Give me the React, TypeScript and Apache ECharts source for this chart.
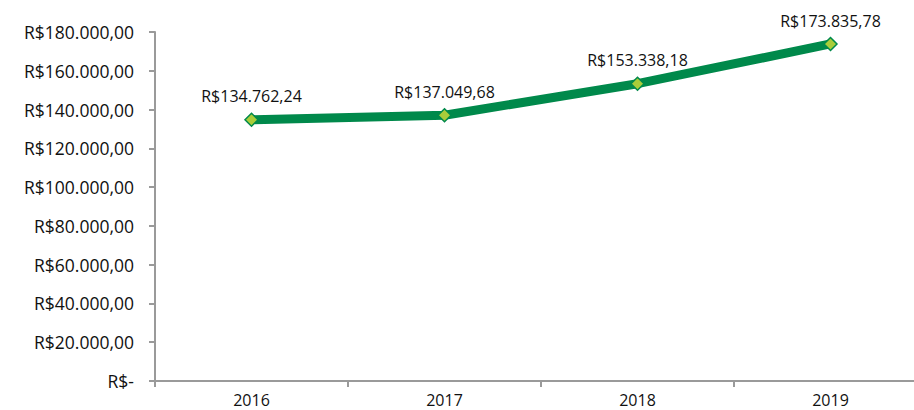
import React, { useEffect, useRef } from "react";
import * as echarts from "echarts";

const years = ["2016", "2017", "2018", "2019"];
const values = [134762.24, 137049.68, 153338.18, 173835.78];
const yTicks = [0, 20000, 40000, 60000, 80000, 100000, 120000, 140000, 160000, 180000];

function fmtBRL(v: number): string {
  if (v === 0) return "R$-";
  const fixed = v.toFixed(2);
  const [intPart, dec] = fixed.split(".");
  const withDots = intPart.replace(/\B(?=(\d{3})+(?!\d))/g, ".");
  return "R$" + withDots + "," + dec;
}

export default function App() {
  const ref = useRef<HTMLDivElement>(null);
  useEffect(() => {
    if (!ref.current) return;
    const chart = echarts.init(ref.current, undefined, { renderer: "svg" });
    const font = "'Open Sans', Lato, sans-serif";
    chart.setOption({
      animation: false,
      backgroundColor: "#ffffff",
      textStyle: { fontFamily: font },
      grid: { left: 155, top: 32, bottom: 29, width: 772, containLabel: false },
      xAxis: {
        type: "category",
        data: years,
        boundaryGap: true,
        axisLine: { lineStyle: { color: "#9a9a9a", width: 2 } },
        axisTick: { show: true, length: 6, lineStyle: { color: "#9a9a9a", width: 2 } },
        axisLabel: { color: "#111", fontSize: 16, margin: 11, fontFamily: font },
        splitLine: { show: false },
      },
      yAxis: {
        type: "value",
        min: yTicks[0],
        max: yTicks[yTicks.length - 1],
        interval: 20000,
        axisLine: { show: true, lineStyle: { color: "#9a9a9a", width: 2 } },
        axisTick: { show: true, length: 6, lineStyle: { color: "#9a9a9a", width: 2 } },
        axisLabel: {
          color: "#111",
          fontSize: 17.5,
          margin: 21,
          fontFamily: font,
          formatter: (v: number) => fmtBRL(v),
        },
        splitLine: { show: false },
      },
      series: [
        {
          type: "line",
          data: values,
          lineStyle: { color: "#00894b", width: 9 },
          itemStyle: { color: "#a9cd3a", borderColor: "#00894b", borderWidth: 1.5 },
          symbol: "diamond",
          symbolSize: 13,
          showSymbol: true,
          label: {
            show: true,
            position: "top",
            distance: 8,
            color: "#111",
            fontSize: 16,
            fontFamily: font,
            formatter: (p: any) => fmtBRL(p.value),
          },
        },
      ],
    });
    return () => chart.dispose();
  }, []);
  return (
    <div style={{ position: "absolute", left: 0, top: 0, width: 914, height: 410, overflow: "hidden" }}>
      <div ref={ref} style={{ width: 930, height: 410 }} />
    </div>
  );
}
